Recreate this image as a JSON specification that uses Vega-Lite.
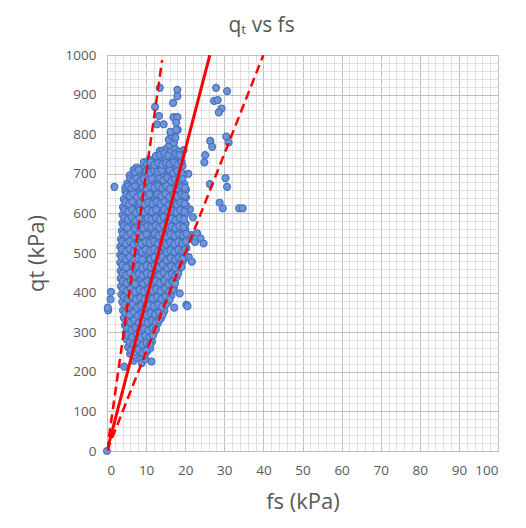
{
  "$schema": "https://vega.github.io/schema/vega-lite/v6.json",
  "autosize": {"type": "none"},
  "width": 391,
  "height": 396,
  "padding": {"left": 107, "top": 55, "right": 28, "bottom": 77},
  "background": "white",
  "title": {
    "text": "qₜ vs fs",
    "frame": "bounds",
    "anchor": "middle",
    "fontSize": 21,
    "font": "Open Sans",
    "fontWeight": "normal",
    "color": "#595959",
    "offset": 12
  },
  "config": {
    "view": {"stroke": null},
    "axis": {
      "labelFont": "Open Sans",
      "labelFontSize": 13.5,
      "labelColor": "#595959",
      "titleFont": "Open Sans",
      "titleFontSize": 22,
      "titleFontWeight": "normal",
      "titleColor": "#595959",
      "ticks": false,
      "domainColor": "#bfbfbf",
      "labelOverlap": false,
      "gridOpacity": 1
    }
  },
  "datasets": {
    "readings": [
      {"fs":0,"qt":0},{"fs":0.3,"qt":355},{"fs":0.2,"qt":362},{"fs":0.9,"qt":383},{"fs":1.0,"qt":402},
      {"fs":1.9,"qt":667},{"fs":4.7,"qt":665},{"fs":4.3,"qt":613},
      {"fs":13.5,"qt":917},{"fs":18,"qt":912},{"fs":18,"qt":896},{"fs":16.9,"qt":879},{"fs":12.3,"qt":869},
      {"fs":13.3,"qt":846},{"fs":12.8,"qt":825},{"fs":14.5,"qt":825},{"fs":17,"qt":843},{"fs":18,"qt":843},
      {"fs":17.7,"qt":829},{"fs":16.4,"qt":794},{"fs":13.5,"qt":758},{"fs":18.1,"qt":811},
      {"fs":27.9,"qt":917},{"fs":30.7,"qt":909},{"fs":27.4,"qt":884},{"fs":28.3,"qt":886},{"fs":29.3,"qt":865},
      {"fs":28.6,"qt":855},{"fs":26.4,"qt":783},{"fs":26.9,"qt":768},{"fs":25.1,"qt":747},{"fs":24.9,"qt":729},
      {"fs":30.5,"qt":794},{"fs":31.1,"qt":779},{"fs":30.3,"qt":689},{"fs":30.7,"qt":667},{"fs":26.3,"qt":674},
      {"fs":28.8,"qt":627},{"fs":29.6,"qt":613},{"fs":33.8,"qt":613},{"fs":34.7,"qt":613},
      {"fs":22,"qt":590},{"fs":23,"qt":550},{"fs":23.9,"qt":537},{"fs":24.7,"qt":524},{"fs":20.9,"qt":490},
      {"fs":21.7,"qt":478},{"fs":20.3,"qt":369},{"fs":20.6,"qt":366},{"fs":17.2,"qt":362},{"fs":18.6,"qt":398},
      {"fs":21.5,"qt":545},{"fs":22.5,"qt":528},{"fs":21.2,"qt":610},{"fs":20.8,"qt":700},{"fs":19.6,"qt":760},
      {"fs":6.8,"qt":228},{"fs":8.9,"qt":222},{"fs":11.4,"qt":226},{"fs":4.4,"qt":213},{"fs":7.6,"qt":236},{"fs":9.8,"qt":232},
      {"fs":5.9,"qt":246},{"fs":7.2,"qt":243},{"fs":8.4,"qt":249},{"fs":9.6,"qt":241},{"fs":10.3,"qt":252},{"fs":6.6,"qt":255},
      {"fs":5.4,"qt":262},{"fs":6.5,"qt":266},{"fs":7.7,"qt":260},{"fs":8.8,"qt":268},{"fs":9.9,"qt":263},{"fs":11.0,"qt":259},{"fs":10.2,"qt":271},
      {"fs":5.1,"qt":281},{"fs":6.2,"qt":277},{"fs":7.3,"qt":284},{"fs":8.5,"qt":279},{"fs":9.4,"qt":286},{"fs":10.6,"qt":281},{"fs":11.5,"qt":276},{"fs":6.9,"qt":290},
      {"fs":4.8,"qt":298},{"fs":5.8,"qt":301},{"fs":6.9,"qt":295},{"fs":8.0,"qt":303},{"fs":9.1,"qt":297},{"fs":10.2,"qt":300},{"fs":11.3,"qt":294},{"fs":12.1,"qt":302},{"fs":7.5,"qt":308},
      {"fs":4.6,"qt":317},{"fs":5.6,"qt":313},{"fs":6.6,"qt":320},{"fs":7.8,"qt":315},{"fs":8.9,"qt":322},{"fs":10.0,"qt":316},{"fs":11.1,"qt":319},{"fs":12.2,"qt":313},{"fs":12.9,"qt":321},{"fs":9.5,"qt":328},
      {"fs":4.3,"qt":336},{"fs":5.4,"qt":332},{"fs":6.4,"qt":339},{"fs":7.4,"qt":334},{"fs":8.5,"qt":341},{"fs":9.7,"qt":335},{"fs":10.8,"qt":338},{"fs":11.9,"qt":332},{"fs":12.9,"qt":340},{"fs":13.8,"qt":335},{"fs":6.0,"qt":346},
      {"fs":4.1,"qt":355},{"fs":5.1,"qt":358},{"fs":6.1,"qt":352},{"fs":7.2,"qt":359},{"fs":8.3,"qt":353},{"fs":9.4,"qt":360},{"fs":10.5,"qt":354},{"fs":11.6,"qt":361},{"fs":12.7,"qt":356},{"fs":13.8,"qt":362},{"fs":14.7,"qt":354},{"fs":8.8,"qt":366},
      {"fs":3.9,"qt":376},{"fs":4.9,"qt":372},{"fs":5.9,"qt":379},{"fs":7.0,"qt":374},{"fs":8.1,"qt":381},{"fs":9.1,"qt":375},{"fs":10.2,"qt":380},{"fs":11.3,"qt":373},{"fs":12.4,"qt":379},{"fs":13.5,"qt":374},{"fs":14.6,"qt":381},{"fs":15.6,"qt":376},{"fs":6.5,"qt":386},
      {"fs":3.7,"qt":395},{"fs":4.7,"qt":398},{"fs":5.8,"qt":392},{"fs":6.8,"qt":399},{"fs":7.9,"qt":394},{"fs":9.0,"qt":401},{"fs":10.1,"qt":395},{"fs":11.2,"qt":400},{"fs":12.3,"qt":393},{"fs":13.4,"qt":399},{"fs":14.4,"qt":394},{"fs":15.5,"qt":400},{"fs":16.5,"qt":393},{"fs":10.7,"qt":407},
      {"fs":3.6,"qt":416},{"fs":4.6,"qt":412},{"fs":5.6,"qt":419},{"fs":6.7,"qt":414},{"fs":7.7,"qt":421},{"fs":8.8,"qt":415},{"fs":9.9,"qt":420},{"fs":11.0,"qt":413},{"fs":12.0,"qt":419},{"fs":13.1,"qt":414},{"fs":14.2,"qt":420},{"fs":15.2,"qt":413},{"fs":16.3,"qt":418},{"fs":17.1,"qt":412},{"fs":8.2,"qt":427},
      {"fs":3.5,"qt":436},{"fs":4.5,"qt":432},{"fs":5.5,"qt":439},{"fs":6.6,"qt":434},{"fs":7.6,"qt":441},{"fs":8.7,"qt":435},{"fs":9.8,"qt":440},{"fs":10.8,"qt":433},{"fs":11.9,"qt":439},{"fs":13.0,"qt":434},{"fs":14.0,"qt":440},{"fs":15.1,"qt":433},{"fs":16.1,"qt":438},{"fs":17.2,"qt":432},{"fs":17.8,"qt":439},{"fs":12.4,"qt":447},
      {"fs":3.5,"qt":455},{"fs":4.4,"qt":458},{"fs":5.4,"qt":452},{"fs":6.5,"qt":459},{"fs":7.5,"qt":453},{"fs":8.6,"qt":460},{"fs":9.6,"qt":454},{"fs":10.7,"qt":461},{"fs":11.8,"qt":455},{"fs":12.8,"qt":460},{"fs":13.9,"qt":453},{"fs":14.9,"qt":459},{"fs":16.0,"qt":454},{"fs":17.0,"qt":460},{"fs":18.0,"qt":453},{"fs":18.6,"qt":461},{"fs":5.9,"qt":466},
      {"fs":3.4,"qt":476},{"fs":4.4,"qt":472},{"fs":5.4,"qt":479},{"fs":6.4,"qt":474},{"fs":7.4,"qt":481},{"fs":8.5,"qt":475},{"fs":9.5,"qt":480},{"fs":10.6,"qt":473},{"fs":11.6,"qt":479},{"fs":12.7,"qt":474},{"fs":13.7,"qt":481},{"fs":14.8,"qt":475},{"fs":15.8,"qt":480},{"fs":16.9,"qt":473},{"fs":17.9,"qt":479},{"fs":18.9,"qt":474},{"fs":19.5,"qt":481},{"fs":9.9,"qt":488},
      {"fs":3.4,"qt":495},{"fs":4.3,"qt":498},{"fs":5.3,"qt":492},{"fs":6.3,"qt":499},{"fs":7.3,"qt":493},{"fs":8.4,"qt":500},{"fs":9.4,"qt":494},{"fs":10.5,"qt":501},{"fs":11.5,"qt":495},{"fs":12.6,"qt":500},{"fs":13.6,"qt":493},{"fs":14.7,"qt":499},{"fs":15.7,"qt":494},{"fs":16.8,"qt":500},{"fs":17.8,"qt":493},{"fs":18.8,"qt":499},{"fs":19.8,"qt":494},{"fs":7.9,"qt":507},{"fs":14.1,"qt":508},
      {"fs":3.4,"qt":516},{"fs":4.3,"qt":512},{"fs":5.3,"qt":519},{"fs":6.3,"qt":514},{"fs":7.3,"qt":521},{"fs":8.3,"qt":515},{"fs":9.4,"qt":520},{"fs":10.4,"qt":513},{"fs":11.5,"qt":519},{"fs":12.5,"qt":514},{"fs":13.5,"qt":521},{"fs":14.6,"qt":515},{"fs":15.6,"qt":520},{"fs":16.7,"qt":513},{"fs":17.7,"qt":519},{"fs":18.7,"qt":514},{"fs":19.8,"qt":520},{"fs":20.3,"qt":512},
      {"fs":3.6,"qt":535},{"fs":4.5,"qt":538},{"fs":5.5,"qt":532},{"fs":6.5,"qt":539},{"fs":7.5,"qt":533},{"fs":8.5,"qt":540},{"fs":9.6,"qt":534},{"fs":10.6,"qt":541},{"fs":11.6,"qt":535},{"fs":12.7,"qt":540},{"fs":13.7,"qt":533},{"fs":14.7,"qt":539},{"fs":15.8,"qt":534},{"fs":16.8,"qt":540},{"fs":17.8,"qt":533},{"fs":18.9,"qt":539},{"fs":19.9,"qt":534},{"fs":11.1,"qt":548},
      {"fs":3.8,"qt":556},{"fs":4.7,"qt":552},{"fs":5.7,"qt":559},{"fs":6.7,"qt":554},{"fs":7.7,"qt":561},{"fs":8.7,"qt":555},{"fs":9.7,"qt":560},{"fs":10.8,"qt":553},{"fs":11.8,"qt":559},{"fs":12.8,"qt":554},{"fs":13.8,"qt":561},{"fs":14.9,"qt":555},{"fs":15.9,"qt":560},{"fs":16.9,"qt":553},{"fs":17.9,"qt":559},{"fs":19.0,"qt":554},{"fs":20.0,"qt":560},{"fs":6.2,"qt":567},{"fs":15.4,"qt":568},
      {"fs":3.9,"qt":575},{"fs":4.8,"qt":578},{"fs":5.8,"qt":572},{"fs":6.8,"qt":579},{"fs":7.8,"qt":573},{"fs":8.8,"qt":580},{"fs":9.8,"qt":574},{"fs":10.9,"qt":581},{"fs":11.9,"qt":575},{"fs":12.9,"qt":580},{"fs":13.9,"qt":573},{"fs":15.0,"qt":579},{"fs":16.0,"qt":574},{"fs":17.0,"qt":580},{"fs":18.0,"qt":573},{"fs":19.1,"qt":579},{"fs":20.1,"qt":574},{"fs":9.3,"qt":588},
      {"fs":4.0,"qt":596},{"fs":4.9,"qt":592},{"fs":5.9,"qt":599},{"fs":6.9,"qt":594},{"fs":7.9,"qt":601},{"fs":8.9,"qt":595},{"fs":9.9,"qt":600},{"fs":11.0,"qt":593},{"fs":12.0,"qt":599},{"fs":13.0,"qt":594},{"fs":14.0,"qt":601},{"fs":15.1,"qt":595},{"fs":16.1,"qt":600},{"fs":17.1,"qt":593},{"fs":18.1,"qt":599},{"fs":19.2,"qt":594},{"fs":20.2,"qt":600},{"fs":13.5,"qt":608},
      {"fs":4.1,"qt":616},{"fs":5.0,"qt":612},{"fs":6.0,"qt":619},{"fs":7.0,"qt":614},{"fs":8.0,"qt":621},{"fs":9.0,"qt":615},{"fs":10.0,"qt":620},{"fs":11.1,"qt":613},{"fs":12.1,"qt":619},{"fs":13.1,"qt":614},{"fs":14.1,"qt":621},{"fs":15.2,"qt":615},{"fs":16.2,"qt":620},{"fs":17.2,"qt":613},{"fs":18.2,"qt":619},{"fs":19.3,"qt":614},{"fs":20.2,"qt":620},{"fs":7.4,"qt":628},
      {"fs":4.3,"qt":636},{"fs":5.2,"qt":632},{"fs":6.2,"qt":639},{"fs":7.2,"qt":634},{"fs":8.2,"qt":641},{"fs":9.2,"qt":635},{"fs":10.2,"qt":640},{"fs":11.2,"qt":633},{"fs":12.2,"qt":639},{"fs":13.2,"qt":634},{"fs":14.2,"qt":641},{"fs":15.3,"qt":635},{"fs":16.3,"qt":640},{"fs":17.3,"qt":633},{"fs":18.3,"qt":639},{"fs":19.3,"qt":634},{"fs":20.2,"qt":640},{"fs":11.7,"qt":648},
      {"fs":4.7,"qt":656},{"fs":5.6,"qt":652},{"fs":6.5,"qt":659},{"fs":7.5,"qt":654},{"fs":8.5,"qt":661},{"fs":9.4,"qt":655},{"fs":10.4,"qt":660},{"fs":11.4,"qt":653},{"fs":12.4,"qt":659},{"fs":13.4,"qt":654},{"fs":14.4,"qt":661},{"fs":15.4,"qt":655},{"fs":16.4,"qt":660},{"fs":17.4,"qt":653},{"fs":18.4,"qt":659},{"fs":19.4,"qt":654},{"fs":20.2,"qt":660},{"fs":8.0,"qt":668},{"fs":16.9,"qt":668},
      {"fs":5.2,"qt":676},{"fs":6.1,"qt":672},{"fs":7.0,"qt":679},{"fs":8.0,"qt":674},{"fs":9.0,"qt":681},{"fs":9.9,"qt":675},{"fs":10.9,"qt":680},{"fs":11.9,"qt":673},{"fs":12.9,"qt":679},{"fs":13.9,"qt":674},{"fs":14.9,"qt":681},{"fs":15.9,"qt":675},{"fs":16.9,"qt":680},{"fs":17.9,"qt":673},{"fs":18.9,"qt":679},{"fs":19.8,"qt":674},{"fs":12.4,"qt":688},
      {"fs":5.8,"qt":696},{"fs":6.7,"qt":692},{"fs":7.6,"qt":699},{"fs":8.6,"qt":694},{"fs":9.5,"qt":701},{"fs":10.5,"qt":695},{"fs":11.5,"qt":700},{"fs":12.5,"qt":693},{"fs":13.5,"qt":699},{"fs":14.5,"qt":694},{"fs":15.5,"qt":701},{"fs":16.5,"qt":695},{"fs":17.5,"qt":700},{"fs":18.5,"qt":693},{"fs":19.5,"qt":699},{"fs":9.1,"qt":708},{"fs":15.0,"qt":708},
      {"fs":7.6,"qt":716},{"fs":8.6,"qt":712},{"fs":9.6,"qt":719},{"fs":10.6,"qt":714},{"fs":11.6,"qt":721},{"fs":12.6,"qt":715},{"fs":13.6,"qt":720},{"fs":14.6,"qt":713},{"fs":15.6,"qt":719},{"fs":16.6,"qt":714},{"fs":17.6,"qt":721},{"fs":18.6,"qt":715},{"fs":19.3,"qt":720},{"fs":6.8,"qt":710},
      {"fs":10.8,"qt":736},{"fs":11.9,"qt":732},{"fs":13.0,"qt":739},{"fs":14.0,"qt":734},{"fs":15.0,"qt":740},{"fs":16.0,"qt":733},{"fs":17.0,"qt":739},{"fs":18.0,"qt":734},{"fs":18.8,"qt":740},{"fs":12.5,"qt":745},{"fs":16.5,"qt":746},
      {"fs":14.2,"qt":758},{"fs":15.3,"qt":764},{"fs":16.4,"qt":757},{"fs":17.4,"qt":763},{"fs":18.3,"qt":756},{"fs":15.9,"qt":772},{"fs":17.1,"qt":778},
      {"fs":15.8,"qt":786},{"fs":16.6,"qt":796},{"fs":17.5,"qt":791},{"fs":16.2,"qt":806},{"fs":17.7,"qt":811},
      {"fs":6.1,"qt":255},{"fs":7.1,"qt":250},{"fs":8.1,"qt":256},{"fs":9.1,"qt":248},{"fs":10.0,"qt":253},
      {"fs":5.8,"qt":275},{"fs":6.8,"qt":270},{"fs":7.9,"qt":276},{"fs":9.0,"qt":268},{"fs":10.1,"qt":273},{"fs":11.0,"qt":269},
      {"fs":5.4,"qt":293},{"fs":6.4,"qt":288},{"fs":7.6,"qt":294},{"fs":8.7,"qt":286},{"fs":9.8,"qt":291},{"fs":10.9,"qt":287},{"fs":11.8,"qt":292},
      {"fs":5.2,"qt":311},{"fs":6.3,"qt":306},{"fs":7.3,"qt":312},{"fs":8.4,"qt":304},{"fs":9.5,"qt":309},{"fs":10.6,"qt":305},{"fs":11.7,"qt":310},{"fs":12.5,"qt":307},
      {"fs":4.9,"qt":330},{"fs":6.0,"qt":325},{"fs":7.0,"qt":331},{"fs":8.1,"qt":323},{"fs":9.2,"qt":328},{"fs":10.4,"qt":324},{"fs":11.5,"qt":329},{"fs":12.5,"qt":326},{"fs":13.3,"qt":330},
      {"fs":4.7,"qt":349},{"fs":5.8,"qt":344},{"fs":6.9,"qt":350},{"fs":7.9,"qt":342},{"fs":9.0,"qt":347},{"fs":10.1,"qt":343},{"fs":11.2,"qt":348},{"fs":12.3,"qt":345},{"fs":13.3,"qt":349},{"fs":14.2,"qt":344},
      {"fs":4.5,"qt":369},{"fs":5.6,"qt":364},{"fs":6.6,"qt":370},{"fs":7.7,"qt":362},{"fs":8.7,"qt":367},{"fs":9.8,"qt":363},{"fs":10.9,"qt":368},{"fs":12.0,"qt":365},{"fs":13.1,"qt":369},{"fs":14.1,"qt":364},{"fs":15.1,"qt":370},
      {"fs":4.3,"qt":389},{"fs":5.3,"qt":384},{"fs":6.3,"qt":390},{"fs":7.4,"qt":382},{"fs":8.5,"qt":387},{"fs":9.6,"qt":383},{"fs":10.7,"qt":388},{"fs":11.7,"qt":385},{"fs":12.8,"qt":389},{"fs":13.9,"qt":384},{"fs":15.0,"qt":390},{"fs":16.0,"qt":382},
      {"fs":4.1,"qt":409},{"fs":5.1,"qt":404},{"fs":6.1,"qt":410},{"fs":7.2,"qt":402},{"fs":8.3,"qt":407},{"fs":9.4,"qt":403},{"fs":10.5,"qt":408},{"fs":11.6,"qt":405},{"fs":12.6,"qt":409},{"fs":13.7,"qt":404},{"fs":14.8,"qt":410},{"fs":15.9,"qt":402},{"fs":16.8,"qt":407},
      {"fs":4.0,"qt":429},{"fs":5.0,"qt":424},{"fs":6.1,"qt":430},{"fs":7.1,"qt":422},{"fs":9.3,"qt":423},{"fs":10.3,"qt":428},{"fs":11.4,"qt":425},{"fs":12.5,"qt":429},{"fs":13.5,"qt":424},{"fs":14.6,"qt":430},{"fs":15.7,"qt":422},{"fs":16.7,"qt":427},{"fs":17.4,"qt":423},
      {"fs":4.0,"qt":449},{"fs":4.9,"qt":444},{"fs":6.0,"qt":450},{"fs":7.0,"qt":442},{"fs":8.1,"qt":447},{"fs":9.1,"qt":443},{"fs":10.2,"qt":448},{"fs":11.3,"qt":445},{"fs":13.4,"qt":444},{"fs":14.5,"qt":450},{"fs":15.5,"qt":442},{"fs":16.6,"qt":447},{"fs":17.5,"qt":443},{"fs":18.2,"qt":448},
      {"fs":3.9,"qt":469},{"fs":4.9,"qt":464},{"fs":6.9,"qt":462},{"fs":8.0,"qt":467},{"fs":9.0,"qt":463},{"fs":10.1,"qt":468},{"fs":11.2,"qt":465},{"fs":12.2,"qt":469},{"fs":13.3,"qt":464},{"fs":14.3,"qt":470},{"fs":15.4,"qt":462},{"fs":16.4,"qt":467},{"fs":17.5,"qt":463},{"fs":18.4,"qt":468},{"fs":19.1,"qt":465},
      {"fs":3.8,"qt":489},{"fs":4.8,"qt":484},{"fs":5.8,"qt":490},{"fs":6.9,"qt":482},{"fs":7.9,"qt":487},{"fs":9.0,"qt":483},{"fs":11.1,"qt":485},{"fs":12.1,"qt":489},{"fs":13.2,"qt":484},{"fs":14.2,"qt":490},{"fs":15.3,"qt":482},{"fs":16.3,"qt":487},{"fs":17.4,"qt":483},{"fs":18.4,"qt":488},{"fs":19.3,"qt":485},
      {"fs":3.8,"qt":509},{"fs":4.8,"qt":504},{"fs":5.8,"qt":510},{"fs":6.8,"qt":502},{"fs":8.9,"qt":503},{"fs":9.9,"qt":508},{"fs":11.0,"qt":505},{"fs":12.0,"qt":509},{"fs":13.1,"qt":504},{"fs":15.2,"qt":502},{"fs":16.2,"qt":507},{"fs":17.2,"qt":503},{"fs":18.3,"qt":508},{"fs":19.3,"qt":505},{"fs":20.0,"qt":509},
      {"fs":3.9,"qt":529},{"fs":4.8,"qt":524},{"fs":5.8,"qt":530},{"fs":6.8,"qt":522},{"fs":7.8,"qt":527},{"fs":8.8,"qt":523},{"fs":9.9,"qt":528},{"fs":10.9,"qt":525},{"fs":12.0,"qt":529},{"fs":13.0,"qt":524},{"fs":14.1,"qt":530},{"fs":15.1,"qt":522},{"fs":16.2,"qt":527},{"fs":17.2,"qt":523},{"fs":18.2,"qt":528},{"fs":19.3,"qt":525},{"fs":20.2,"qt":529},
      {"fs":4.1,"qt":549},{"fs":5.0,"qt":544},{"fs":6.0,"qt":550},{"fs":7.0,"qt":542},{"fs":8.0,"qt":547},{"fs":9.1,"qt":543},{"fs":10.1,"qt":548},{"fs":12.2,"qt":549},{"fs":13.2,"qt":544},{"fs":14.2,"qt":550},{"fs":15.3,"qt":542},{"fs":16.3,"qt":547},{"fs":17.3,"qt":543},{"fs":18.4,"qt":548},{"fs":19.4,"qt":545},{"fs":20.3,"qt":549},
      {"fs":4.3,"qt":569},{"fs":5.2,"qt":564},{"fs":7.2,"qt":562},{"fs":8.2,"qt":567},{"fs":9.3,"qt":563},{"fs":10.3,"qt":568},{"fs":11.3,"qt":565},{"fs":12.4,"qt":569},{"fs":13.4,"qt":564},{"fs":14.4,"qt":570},{"fs":16.5,"qt":567},{"fs":17.5,"qt":563},{"fs":18.5,"qt":568},{"fs":19.6,"qt":565},
      {"fs":4.4,"qt":589},{"fs":5.3,"qt":584},{"fs":6.3,"qt":590},{"fs":7.3,"qt":582},{"fs":8.3,"qt":587},{"fs":10.4,"qt":588},{"fs":11.4,"qt":585},{"fs":12.5,"qt":589},{"fs":13.5,"qt":584},{"fs":14.5,"qt":590},{"fs":15.6,"qt":582},{"fs":16.6,"qt":587},{"fs":17.6,"qt":583},{"fs":18.6,"qt":588},{"fs":19.7,"qt":585},
      {"fs":4.5,"qt":609},{"fs":5.4,"qt":604},{"fs":6.4,"qt":610},{"fs":7.4,"qt":602},{"fs":8.4,"qt":607},{"fs":9.5,"qt":603},{"fs":10.5,"qt":608},{"fs":11.5,"qt":605},{"fs":12.6,"qt":609},{"fs":14.6,"qt":610},{"fs":15.7,"qt":602},{"fs":16.7,"qt":607},{"fs":17.7,"qt":603},{"fs":18.7,"qt":608},{"fs":19.8,"qt":605},
      {"fs":4.7,"qt":629},{"fs":5.6,"qt":624},{"fs":6.5,"qt":630},{"fs":8.5,"qt":627},{"fs":9.6,"qt":623},{"fs":10.6,"qt":628},{"fs":11.6,"qt":625},{"fs":12.7,"qt":629},{"fs":13.7,"qt":624},{"fs":14.7,"qt":630},{"fs":15.8,"qt":622},{"fs":16.8,"qt":627},{"fs":17.8,"qt":623},{"fs":18.8,"qt":628},{"fs":19.8,"qt":625},
      {"fs":5.0,"qt":649},{"fs":5.8,"qt":644},{"fs":6.7,"qt":650},{"fs":7.7,"qt":642},{"fs":8.7,"qt":647},{"fs":9.8,"qt":643},{"fs":10.8,"qt":648},{"fs":12.9,"qt":649},{"fs":13.9,"qt":644},{"fs":14.9,"qt":650},{"fs":16.0,"qt":642},{"fs":17.0,"qt":647},{"fs":18.0,"qt":643},{"fs":19.0,"qt":648},{"fs":19.9,"qt":645},
      {"fs":5.4,"qt":669},{"fs":6.2,"qt":664},{"fs":7.1,"qt":670},{"fs":9.1,"qt":667},{"fs":10.1,"qt":663},{"fs":11.1,"qt":668},{"fs":12.1,"qt":665},{"fs":13.1,"qt":669},{"fs":14.1,"qt":664},{"fs":15.1,"qt":670},{"fs":16.1,"qt":662},{"fs":18.1,"qt":663},{"fs":19.1,"qt":668},{"fs":19.9,"qt":665},
      {"fs":5.9,"qt":689},{"fs":6.6,"qt":684},{"fs":7.5,"qt":690},{"fs":8.5,"qt":682},{"fs":9.4,"qt":687},{"fs":10.4,"qt":683},{"fs":11.4,"qt":688},{"fs":13.4,"qt":689},{"fs":14.4,"qt":684},{"fs":15.4,"qt":690},{"fs":16.4,"qt":682},{"fs":17.4,"qt":687},{"fs":18.4,"qt":683},{"fs":19.3,"qt":688},
      {"fs":7.2,"qt":704},{"fs":8.1,"qt":710},{"fs":10.0,"qt":707},{"fs":11.0,"qt":703},{"fs":12.0,"qt":708},{"fs":13.0,"qt":705},{"fs":14.0,"qt":709},{"fs":16.0,"qt":710},{"fs":17.0,"qt":702},{"fs":18.0,"qt":707},{"fs":19.0,"qt":703},
      {"fs":9.4,"qt":729},{"fs":10.2,"qt":724},{"fs":11.1,"qt":730},{"fs":12.1,"qt":722},{"fs":13.1,"qt":727},{"fs":14.1,"qt":723},{"fs":15.1,"qt":728},{"fs":16.1,"qt":725},{"fs":17.1,"qt":729},{"fs":18.1,"qt":724},{"fs":19.0,"qt":730},
      {"fs":13.5,"qt":748},{"fs":14.6,"qt":752},{"fs":15.6,"qt":746},{"fs":17.6,"qt":750},{"fs":18.5,"qt":747}
    ],
    "trend": [
      {"fs":0,"qt":0,"line":"upper"},{"fs":14.1,"qt":987,"line":"upper"},
      {"fs":0,"qt":0,"line":"mean"},{"fs":26.3,"qt":1000,"line":"mean"},
      {"fs":0,"qt":0,"line":"lower"},{"fs":40,"qt":1000,"line":"lower"}
    ]
  },
  "encoding": {
    "x": {
      "field": "fs",
      "type": "quantitative",
      "scale": {"domain": [0, 100], "nice": false},
      "axis": {
        "title": "fs (kPa)",
        "values": [0,2,4,6,8,10,12,14,16,18,20,22,24,26,28,30,32,34,36,38,40,42,44,46,48,50,52,54,56,58,60,62,64,66,68,70,72,74,76,78,80,82,84,86,88,90,92,94,96,98,100],
        "labelExpr": "datum.value % 10 === 0 ? '' + datum.value : ''",
        "gridColor": {"condition": {"test": "datum.value % 10 === 0", "value": "#bfbfbf"}, "value": "#e0e0e0"},
        "labelPadding": 12,
        "titlePadding": 15
      }
    },
    "y": {
      "field": "qt",
      "type": "quantitative",
      "scale": {"domain": [0, 1000], "nice": false},
      "axis": {
        "title": "qt (kPa)",
        "values": [0,20,40,60,80,100,120,140,160,180,200,220,240,260,280,300,320,340,360,380,400,420,440,460,480,500,520,540,560,580,600,620,640,660,680,700,720,740,760,780,800,820,840,860,880,900,920,940,960,980,1000],
        "labelExpr": "datum.value % 100 === 0 ? '' + datum.value : ''",
        "gridColor": {"condition": {"test": "datum.value % 100 === 0", "value": "#bfbfbf"}, "value": "#e0e0e0"},
        "labelPadding": 11,
        "titlePadding": 17
      }
    }
  },
  "layer": [
    {
      "data": {"name": "readings"},
      "mark": {"type": "point", "shape": "circle", "filled": false, "fill": "#7194d6", "fillOpacity": 1, "stroke": "#4472c4", "strokeWidth": 1.2, "size": 48, "opacity": 1}
    },
    {
      "data": {"name": "trend"},
      "transform": [{"filter": "datum.line === 'mean'"}],
      "mark": {"type": "line", "color": "#ff0000", "strokeWidth": 3, "clip": true}
    },
    {
      "data": {"name": "trend"},
      "transform": [{"filter": "datum.line !== 'mean'"}],
      "mark": {"type": "line", "color": "#ff0000", "strokeWidth": 2.5, "strokeDash": [9, 5], "clip": true},
      "encoding": {"detail": {"field": "line", "type": "nominal"}}
    }
  ]
}
